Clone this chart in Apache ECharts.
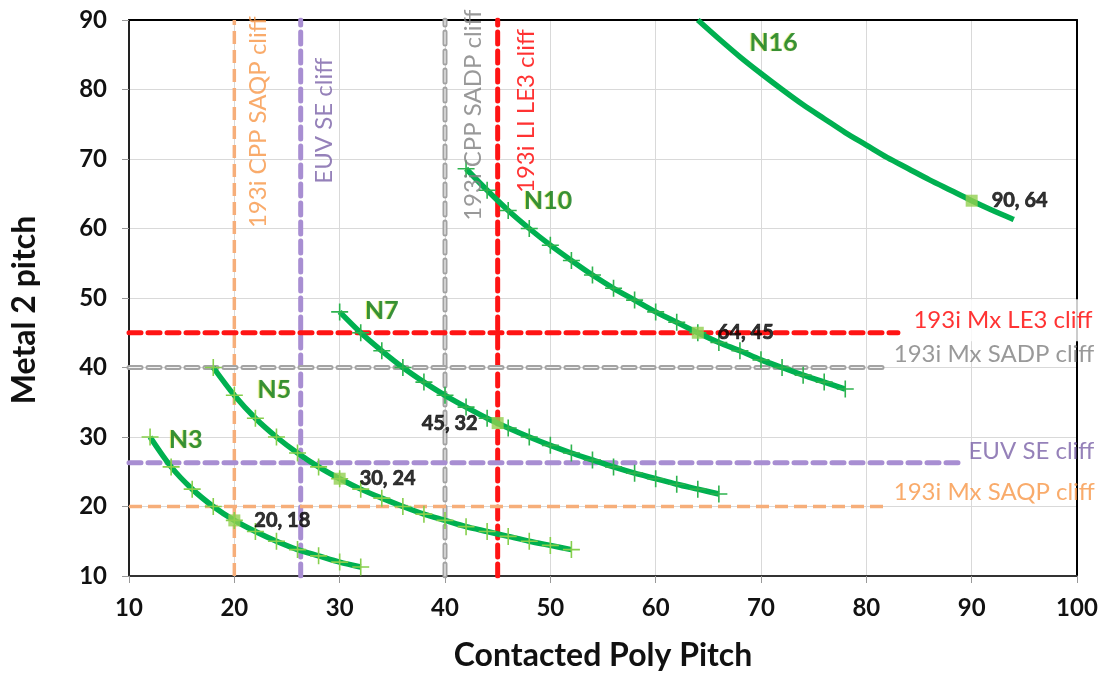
<!DOCTYPE html>
<html>
<head>
<meta charset="utf-8">
<script src="https://cdn.jsdelivr.net/npm/echarts@6/dist/echarts.min.js"></script>
<style>
  html, body { margin: 0; padding: 0; background: #fff; }
  #chart { width: 1106px; height: 677px; }
</style>
</head>
<body>
<div id="chart"></div>
<script>
// Node curves: contacted poly pitch (x) vs metal 2 pitch (y)
const n3X = [12, 14, 16, 18, 20, 22, 24, 26, 28, 30, 32];
const n3Y = [30, 25.7, 22.5, 20, 18, 16.4, 15, 13.8, 12.9, 12, 11.3];
const n5X = [18, 20, 22, 24, 26, 28, 30, 32, 34, 36, 38, 40, 42, 44, 46, 48, 50, 52];
const n5Y = [40, 36, 32.7, 30, 27.7, 25.7, 24, 22.5, 21.2, 20, 18.9, 18, 17.1, 16.4, 15.7, 15, 14.4, 13.8];
const n7X = [30, 32, 34, 36, 38, 40, 42, 44, 46, 48, 50, 52, 54, 56, 58, 60, 62, 64, 66];
const n7Y = [48, 45, 42.4, 40, 37.9, 36, 34.3, 32.7, 31.3, 30, 28.8, 27.7, 26.7, 25.7, 24.8, 24, 23.2, 22.5, 21.8];
const n10X = [42, 44, 46, 48, 50, 52, 54, 56, 58, 60, 62, 64, 66, 68, 70, 72, 74, 76, 78];
const n10Y = [68.6, 65.5, 62.6, 60, 57.6, 55.4, 53.3, 51.4, 49.7, 48, 46.5, 45, 43.6, 42.4, 41.1, 40, 38.9, 37.9, 36.9];
const n16X = [64, 66, 68, 70, 72, 74, 76, 78, 80, 82, 84, 86, 88, 90, 92, 94];
const n16Y = [90, 87.3, 84.7, 82.3, 80, 77.8, 75.8, 73.8, 72, 70.2, 68.6, 67, 65.5, 64, 62.6, 61.3];

// Named design points per node
const keyX = [20, 30, 45, 64, 90];
const keyY = [18, 24, 32, 45, 64];

// Lithography cliffs
const cppCliffNames = ['193i CPP SAQP cliff', 'EUV SE cliff', '193i CPP SADP cliff', '193i LI LE3 cliff'];
const cppCliffValues = [20, 26.3, 40, 45];
const mxCliffNames = ['193i Mx LE3 cliff', '193i Mx SADP cliff', 'EUV SE cliff', '193i Mx SAQP cliff'];
const mxCliffValues = [45, 40, 26.3, 20];
const mxCliffEnds = [83, 81.7, 89, 81.7];

const nodeNames = ['N3', 'N5', 'N7', 'N10', 'N16'];

// Axis ticks
const xTicks = [10, 20, 30, 40, 50, 60, 70, 80, 90, 100];
const yTicks = [10, 20, 30, 40, 50, 60, 70, 80, 90];

const FONT = 'Lato';
const cliffColors = {
  red:    { line: '#FF1414', text: '#FF0000', kind: 'solid' },
  gray:   { line: '#A3A3A3', text: '#7F7F7F', kind: 'double' },
  purple: { line: '#A88ED2', text: '#7B61A8', kind: 'solid' },
  orange: { line: '#F6AE7A', text: '#F79646', kind: 'thin' }
};
const cppColors = [cliffColors.orange, cliffColors.purple, cliffColors.gray, cliffColors.red];
const mxColors = [cliffColors.red, cliffColors.gray, cliffColors.purple, cliffColors.orange];

const crossPath = 'path://M0,7.25H16V8.75H0Z M7.25,0H8.75V16H7.25Z';
const zip = (xs, ys) => xs.map((x, i) => [x, ys[i]]);

const series = [];

// Dashed cliff lines; the SADP cliffs are drawn as a double dashed stroke
function addCliff(name, data, c) {
  const thin = c.kind === 'thin';
  const dash = thin ? [13, 6] : [12, 7];
  series.push({
    type: 'line', name, silent: true, symbol: 'none', z: 1, data,
    lineStyle: { color: c.line, width: thin ? 3.5 : 5, type: dash, cap: thin ? 'butt' : 'round' }
  });
  if (c.kind === 'double') {
    series.push({
      type: 'line', name: name + ' inner', silent: true, symbol: 'none', z: 1, data,
      lineStyle: { color: 'rgba(255,255,255,0.85)', width: 1.2, type: dash, cap: 'round' }
    });
  }
}
cppCliffValues.forEach((v, i) => {
  addCliff(cppCliffNames[i], [[v, yTicks[0]], [v, yTicks[yTicks.length - 1]]], cppColors[i]);
});
mxCliffValues.forEach((v, i) => {
  addCliff(mxCliffNames[i], [[xTicks[0], v], [mxCliffEnds[i], v]], mxColors[i]);
});

// Node curves
const curves = [
  { name: 'N3', x: n3X, y: n3Y, cross: '#86CF4C' },
  { name: 'N5', x: n5X, y: n5Y, cross: '#86CF4C' },
  { name: 'N7', x: n7X, y: n7Y, cross: '#2DB34E' },
  { name: 'N10', x: n10X, y: n10Y, cross: '#2DB34E' },
  { name: 'N16', x: n16X, y: n16Y, cross: null }
];
curves.forEach(c => {
  series.push({
    type: 'line', name: c.name, smooth: 0.3, z: 3,
    data: zip(c.x, c.y),
    symbol: c.cross ? crossPath : 'none',
    symbolSize: 17,
    showAllSymbol: true,
    itemStyle: { color: c.cross || '#00B050' },
    lineStyle: { color: '#00B050', width: 5.5 }
  });
});

// Design points with value labels
series.push({
  type: 'scatter', name: 'design points', z: 5,
  symbol: 'rect', symbolSize: 12,
  itemStyle: { color: '#92D050' },
  data: keyX.map((x, i) => ({
    value: [x, keyY[i]],
    label: {
      show: true,
      position: i === 2 ? 'left' : 'right',
      distance: 14,
      formatter: x + ', ' + keyY[i],
      color: '#000', fontFamily: FONT, fontWeight: 'bold', fontSize: 20,
      textBorderColor: '#000', textBorderWidth: 0.7
    }
  }))
});

// Text-only helper series for annotations
function textSeries(name, items) {
  return {
    type: 'scatter', name, z: 6, silent: true,
    symbolSize: 1, itemStyle: { color: 'rgba(0,0,0,0)' },
    data: items
  };
}

// Node name labels
const nodeLabelAt = [[15.4, 29.6], [23.8, 36.8], [34.0, 48.2], [49.8, 63.9], [71.2, 86.7]];
series.push(textSeries('node names', nodeNames.map((n, i) => ({
  value: nodeLabelAt[i],
  label: {
    show: true, position: 'inside', align: 'center', verticalAlign: 'middle',
    formatter: n, color: '#0C7A26', fontFamily: FONT, fontWeight: 'bold', fontSize: 25,
    textShadowColor: 'rgba(200,215,0,0.8)', textShadowBlur: 1, textShadowOffsetX: -1
  }
}))));

// Vertical cliff labels
const cppLabelAt = [[22.3, 75.3], [28.5, 75.5], [42.7, 76.3], [47.7, 76.9]];
series.push(textSeries('cpp cliff names', cppCliffNames.map((n, i) => ({
  value: cppLabelAt[i],
  label: {
    show: true, position: 'inside', align: 'center', verticalAlign: 'middle', rotate: 90,
    formatter: n, color: cppColors[i].text, fontFamily: FONT, fontSize: 24
  }
}))));

// Horizontal cliff labels
const mxLabelAt = [[83.9, 46.8], [82.6, 41.9], [89.7, 28.0], [82.6, 22.0]];
series.push(textSeries('mx cliff names', mxCliffNames.map((n, i) => ({
  value: mxLabelAt[i],
  label: Object.assign({
    show: true, position: 'inside', align: 'left', verticalAlign: 'middle',
    formatter: n, color: mxColors[i].text, fontFamily: FONT, fontSize: 24
  }, i === 0 ? { backgroundColor: '#fff', padding: [9, 6, 9, 6] } : {})
}))));

const chart = echarts.init(document.getElementById('chart'), null, { renderer: 'canvas' });
const axisText = { color: '#111', fontFamily: FONT, fontWeight: 'bold', fontSize: 24 };
chart.setOption({
  animation: false,
  backgroundColor: '#fff',
  grid: { left: 129, top: 20, right: 29, bottom: 96 },
  xAxis: [{
    type: 'value', min: xTicks[0], max: xTicks[xTicks.length - 1], interval: 10,
    name: 'Contacted Poly Pitch', nameLocation: 'middle', nameGap: 64,
    nameTextStyle: { color: '#111', fontFamily: FONT, fontWeight: 'bold', fontSize: 32 },
    axisLine: { show: true, lineStyle: { color: '#333', width: 2 } },
    axisTick: { show: true, length: 7, lineStyle: { color: '#999' } },
    axisLabel: Object.assign({ margin: 20 }, axisText),
    splitLine: { show: true, lineStyle: { color: '#D9D9D9', width: 1 } }
  }, {
    type: 'value', position: 'top', min: xTicks[0], max: xTicks[xTicks.length - 1],
    axisLine: { show: true, onZero: false, lineStyle: { color: '#000', width: 2 } },
    axisTick: { show: false }, axisLabel: { show: false }, splitLine: { show: false }
  }],
  yAxis: [{
    type: 'value', min: yTicks[0], max: yTicks[yTicks.length - 1], interval: 10,
    name: 'Metal 2 pitch', nameLocation: 'middle', nameGap: 88,
    nameTextStyle: { color: '#111', fontFamily: FONT, fontWeight: 'bold', fontSize: 32, padding: [0, 24, 0, 0] },
    axisLine: { show: true, lineStyle: { color: '#222', width: 2 } },
    axisTick: { show: true, length: 7, lineStyle: { color: '#999' } },
    axisLabel: Object.assign({ margin: 22 }, axisText),
    splitLine: { show: true, lineStyle: { color: '#D9D9D9', width: 1 } }
  }, {
    type: 'value', position: 'right', min: yTicks[0], max: yTicks[yTicks.length - 1],
    axisLine: { show: true, onZero: false, lineStyle: { color: '#000', width: 2 } },
    axisTick: { show: false }, axisLabel: { show: false }, splitLine: { show: false }
  }],
  series
});
</script>
</body>
</html>
